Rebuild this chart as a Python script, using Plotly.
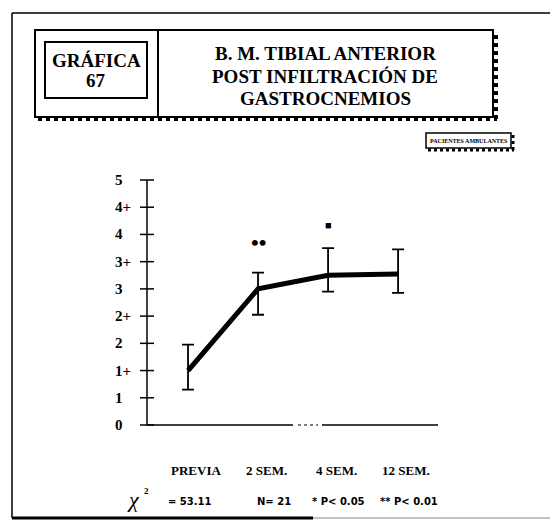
import plotly.graph_objects as go

# ---- data -------------------------------------------------------------
categories = ["PREVIA", "2 SEM.", "4 SEM.", "12 SEM."]
grade_labels = ["0", "1", "1+", "2", "2+", "3", "3+", "4", "4+", "5"]
means = [2.0, 5.0, 5.5, 5.55]
err_plus = [0.95, 0.6, 1.0, 0.9]
err_minus = [0.7, 0.95, 0.6, 0.7]
sig_marks = ["", "••", "■", ""]
sig_levels = [None, 6.7, 7.35, None]

title_lines = ["B. M. TIBIAL ANTERIOR", "POST INFILTRACIÓN DE", "GASTROCNEMIOS"]
chart_tag = ["GRÁFICA", "67"]
group_tag = "PACIENTES AMBULANTES"
footer = ["= 53.11", "N= 21", "* P< 0.05", "** P< 0.01"]

# ---- geometry helpers (page pixels -> paper coordinates) ---------------
W, H = 550, 527
ML, MR, MT, MB = 147, 112, 180, 102
PW, PH = W - ML - MR, H - MT - MB


def fx(px):
    return (px - ML) / PW


def fy(py):
    return (H - MB - py) / PH


SERIF = "Liberation Serif"
SANS = "DejaVu Sans"
xs = list(range(len(categories)))
x_lo, x_hi = -0.586, 3.57

fig = go.Figure()

# mean line with asymmetric error bars
fig.add_trace(go.Scatter(
    x=xs, y=means, mode="lines",
    line=dict(color="black", width=5),
    error_y=dict(type="data", symmetric=False, array=err_plus,
                 arrayminus=err_minus, color="black", thickness=1.8, width=6),
    cliponaxis=False, hoverinfo="skip", showlegend=False,
))

# y tick crosses on the axis
fig.add_trace(go.Scatter(
    x=[x_lo] * len(grade_labels), y=list(range(len(grade_labels))),
    mode="markers",
    marker=dict(symbol="line-ew", size=10, line=dict(color="black", width=1.5)),
    cliponaxis=False, hoverinfo="skip", showlegend=False,
))

# x tick marks hanging below the axis
fig.add_trace(go.Scatter(
    x=xs, y=[-0.48] * len(xs), mode="markers",
    marker=dict(symbol="line-ns", size=10, line=dict(color="black", width=1.5)),
    cliponaxis=False, hoverinfo="skip", showlegend=False,
))

shapes = []
ann = []

# axes
shapes.append(dict(type="line", xref="paper", yref="paper", x0=0, x1=0,
                   y0=0, y1=1, line=dict(color="black", width=1.5)))
shapes.append(dict(type="line", xref="paper", yref="paper", x0=0, x1=fx(293),
                   y0=0, y1=0, line=dict(color="black", width=1.5)))
shapes.append(dict(type="line", xref="paper", yref="paper", x0=fx(298), x1=fx(318),
                   y0=0, y1=0, line=dict(color="black", width=1, dash="dot")))
shapes.append(dict(type="line", xref="paper", yref="paper", x0=fx(322), x1=fx(438),
                   y0=0, y1=0, line=dict(color="black", width=1.5)))

# y tick labels
for i, lab in enumerate(grade_labels):
    ann.append(dict(x=fx(113), y=i, xref="paper", yref="y", text=f"<b>{lab}</b>",
                    showarrow=False, xanchor="left", yanchor="middle",
                    font=dict(family=SERIF, size=15, color="black")))

# x category labels
for i, lab in enumerate(categories):
    ann.append(dict(x=xs[i], y=fy(470), xref="x", yref="paper", text=f"<b>{lab}</b>",
                    showarrow=False, xshift=8, xanchor="center", yanchor="middle",
                    font=dict(family=SERIF, size=13, color="black")))

# significance marks
for i, (m, lv) in enumerate(zip(sig_marks, sig_levels)):
    if m:
        ann.append(dict(x=xs[i], y=lv, xref="x", yref="y", text=f"<b>{m}</b>",
                        showarrow=False, xanchor="center", yanchor="middle",
                        font=dict(family=SERIF, size=22 if len(m) > 1 else 11,
                                  color="black")))

# outer frame
frame = dict(color="black", width=1.5)
shapes.append(dict(type="line", xref="paper", yref="paper", x0=fx(12), x1=fx(12),
                   y0=fy(13), y1=fy(518), line=frame))
shapes.append(dict(type="line", xref="paper", yref="paper", x0=fx(12), x1=fx(550),
                   y0=fy(13), y1=fy(13), line=frame))
shapes.append(dict(type="line", xref="paper", yref="paper", x0=fx(12), x1=fx(313),
                   y0=fy(518), y1=fy(518), line=dict(color="black", width=3)))
shapes.append(dict(type="line", xref="paper", yref="paper", x0=fx(313), x1=fx(550),
                   y0=fy(518), y1=fy(518), line=dict(color="#888888", width=1)))

# header box with dotted drop shadow
shapes.append(dict(type="rect", xref="paper", yref="paper", x0=fx(35), x1=fx(493),
                   y0=fy(117), y1=fy(30), line=dict(color="black", width=2)))
shapes.append(dict(type="line", xref="paper", yref="paper", x0=fx(38), x1=fx(497),
                   y0=fy(119), y1=fy(119), line=dict(color="black", width=4, dash="dot")))
shapes.append(dict(type="line", xref="paper", yref="paper", x0=fx(496), x1=fx(496),
                   y0=fy(35), y1=fy(120), line=dict(color="black", width=4, dash="dot")))
shapes.append(dict(type="line", xref="paper", yref="paper", x0=fx(158), x1=fx(158),
                   y0=fy(30), y1=fy(117), line=dict(color="black", width=2)))
shapes.append(dict(type="rect", xref="paper", yref="paper", x0=fx(45), x1=fx(147),
                   y0=fy(98), y1=fy(42), line=dict(color="black", width=2)))

for txt, py in zip(chart_tag, [61, 80]):
    ann.append(dict(x=fx(96), y=fy(py), xref="paper", yref="paper", text=f"<b>{txt}</b>",
                    showarrow=False, xanchor="center", yanchor="middle",
                    font=dict(family=SERIF, size=19, color="black")))
for txt, py in zip(title_lines, [53, 76, 98]):
    ann.append(dict(x=fx(325), y=fy(py), xref="paper", yref="paper", text=f"<b>{txt}</b>",
                    showarrow=False, xanchor="center", yanchor="middle",
                    font=dict(family=SERIF, size=19, color="black")))

# patient group tag box
shapes.append(dict(type="rect", xref="paper", yref="paper", x0=fx(426), x1=fx(511),
                   y0=fy(148), y1=fy(133), line=dict(color="black", width=1.5)))
shapes.append(dict(type="line", xref="paper", yref="paper", x0=fx(428), x1=fx(514),
                   y0=fy(150), y1=fy(150), line=dict(color="black", width=3, dash="dot")))
shapes.append(dict(type="line", xref="paper", yref="paper", x0=fx(513), x1=fx(513),
                   y0=fy(135), y1=fy(151), line=dict(color="black", width=3, dash="dot")))
ann.append(dict(x=fx(468.5), y=fy(141), xref="paper", yref="paper",
                text=f"<b>{group_tag}</b>", showarrow=False, xanchor="center",
                yanchor="middle", font=dict(family=SERIF, size=6, color="black")))

# footer statistics
ann.append(dict(x=fx(125), y=fy(499), xref="paper", yref="paper",
                text="<i>χ</i>", showarrow=False, xanchor="left", yanchor="middle",
                font=dict(family=SERIF, size=22, color="black")))
ann.append(dict(x=fx(142), y=fy(491), xref="paper", yref="paper",
                text="<b>2</b>", showarrow=False, xanchor="left", yanchor="middle",
                font=dict(family=SERIF, size=9, color="black")))
for txt, px in zip(footer, [166, 255, 310, 378]):
    ann.append(dict(x=fx(px), y=fy(501), xref="paper", yref="paper", text=f"<b>{txt}</b>",
                    showarrow=False, xanchor="left", yanchor="middle",
                    font=dict(family=SANS, size=10, color="black")))

fig.update_layout(
    width=W, height=H,
    margin=dict(l=ML, r=MR, t=MT, b=MB),
    paper_bgcolor="white", plot_bgcolor="white",
    xaxis=dict(range=[x_lo, x_hi], showgrid=False, zeroline=False, showline=False,
               showticklabels=False, ticks=""),
    yaxis=dict(range=[0, 9], showgrid=False, zeroline=False, showline=False,
               showticklabels=False, ticks=""),
    shapes=shapes, annotations=ann, showlegend=False,
)

fig.write_html("out.html")
